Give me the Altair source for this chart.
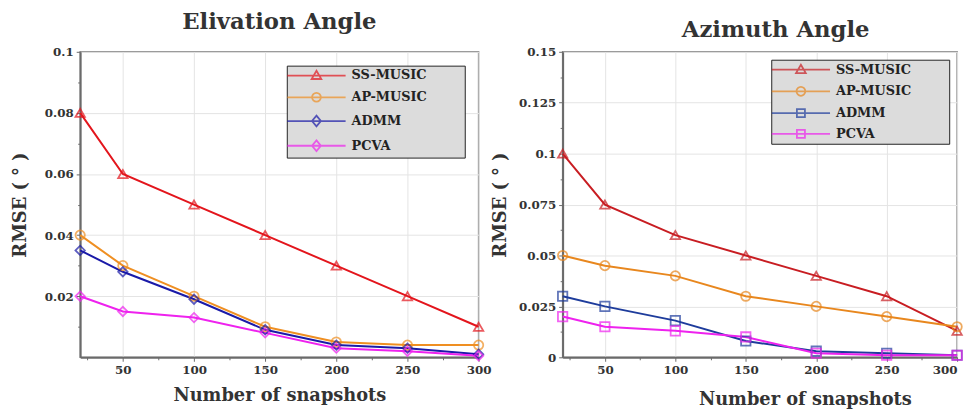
import altair as alt
import pandas as pd

snapshots = [20, 50, 100, 150, 200, 250, 300]
series = ["SS-MUSIC", "AP-MUSIC", "ADMM", "PCVA"]

# Elevation angle RMSE
elev_ss = [0.08, 0.06, 0.05, 0.04, 0.03, 0.02, 0.01]
elev_ap = [0.04, 0.03, 0.02, 0.01, 0.005, 0.004, 0.004]
elev_admm = [0.035, 0.028, 0.019, 0.009, 0.004, 0.003, 0.001]
elev_pcva = [0.02, 0.015, 0.013, 0.008, 0.003, 0.002, 0.0005]

# Azimuth angle RMSE
azim_ss = [0.1, 0.075, 0.06, 0.05, 0.04, 0.03, 0.013]
azim_ap = [0.05, 0.045, 0.04, 0.03, 0.025, 0.02, 0.015]
azim_admm = [0.03, 0.025, 0.018, 0.008, 0.003, 0.002, 0.001]
azim_pcva = [0.02, 0.015, 0.013, 0.01, 0.002, 0.001, 0.001]

# tick positions (major ones labelled, the others are minor ticks)
x_ticks = [25, 50, 75, 100, 125, 150, 175, 200, 225, 250, 275, 300]
elev_ticks = [0.01, 0.02, 0.03, 0.04, 0.05, 0.06, 0.07, 0.08, 0.09, 0.1]
azim_ticks = [0, 0.0125, 0.025, 0.0375, 0.05, 0.0625, 0.075, 0.0875, 0.1,
              0.1125, 0.125, 0.1375, 0.15]

elev_colors = ["#e3151c", "#ef8f22", "#1a1aa8", "#ee22ee"]
azim_colors = ["#c81d22", "#e8871e", "#1e3c9c", "#ee22ee"]

elev_shapes = ["triangle-up", "circle", "diamond", "diamond"]
azim_shapes = ["triangle-up", "circle", "square", "square"]

# legend glyphs: a line segment with the marker in its middle (unit = 7 px)
LINE = "M-4.21,0H4.21"
TRI = "M0,-0.7L0.7,0.5L-0.7,0.5Z"
CIRC = "M0.64,0A0.64,0.64,0,1,1,-0.64,0A0.64,0.64,0,1,1,0.64,0Z"
DIAM = "M0,-0.78L0.64,0L0,0.78L-0.64,0Z"
SQ = "M-0.58,-0.58H0.58V0.58H-0.58Z"
WIDEN = "M20.6,0"
elev_leg = [LINE + TRI + WIDEN, LINE + CIRC + WIDEN, LINE + DIAM + WIDEN, LINE + DIAM + WIDEN]
azim_leg = [LINE + TRI + WIDEN, LINE + CIRC + WIDEN, LINE + SQ + WIDEN, LINE + SQ + WIDEN]

SERIF = "DejaVu Serif"


def make_df(vals):
    rows = []
    for s, v in zip(series, vals):
        for xv, yv in zip(snapshots, v):
            rows.append({"snapshots": xv, "rmse": yv, "series": s})
    return pd.DataFrame(rows)


def panel(vals, colors, shapes, leg_paths, ymax, yticks, ymul, title, w, h,
          title_offset, title_dx, xtitle_x, legend_offset, y_title_pad,
          x_title_pad, flush):
    df = make_df(vals)
    base = alt.Chart(df)
    x_minor = "datum.value % 50 != 0"
    y_minor = f"abs(datum.value*{ymul} - round(datum.value*{ymul})) > 0.001"
    x = alt.X("snapshots:Q",
              scale=alt.Scale(domain=[20, 300], nice=False, zero=False),
              axis=alt.Axis(values=x_ticks, title="Number of snapshots",
                            titleX=xtitle_x, titlePadding=x_title_pad,
                            labelFlush=flush,
                            labelExpr=f"({x_minor}) ? '' : datum.label",
                            gridOpacity={"condition": {"test": x_minor, "value": 0}, "value": 1},
                            tickSize={"condition": {"test": x_minor, "value": 2.5}, "value": 4}))
    y = alt.Y("rmse:Q",
              scale=alt.Scale(domain=[0, ymax], nice=False, zero=True),
              axis=alt.Axis(values=yticks, title="RMSE ( ° )",
                            titlePadding=y_title_pad,
                            labelExpr=f"({y_minor}) ? '' : format(datum.value, '~g')",
                            gridOpacity={"condition": {"test": y_minor, "value": 0}, "value": 1},
                            tickSize={"condition": {"test": y_minor, "value": 2.5}, "value": 4}))
    stroke_scale = alt.Scale(domain=series, range=colors)
    lines = base.mark_line(strokeWidth=2).encode(
        x=x, y=y,
        stroke=alt.Stroke("series:N", scale=stroke_scale, legend=None),
    )
    points = base.mark_point(filled=False, size=90, strokeWidth=1.8).encode(
        x=x, y=y,
        stroke=alt.Stroke("series:N", scale=stroke_scale, legend=None),
        shape=alt.Shape("series:N", scale=alt.Scale(domain=series, range=shapes),
                        legend=None),
    )
    leg = alt.Legend(title=None, orient="top-right", offset=legend_offset,
                     fillColor="#dcdcdc", strokeColor="#222222", padding=2,
                     symbolSize=196, symbolOffset=20, labelOffset=27.5,
                     symbolStrokeWidth=1.8, rowPadding=5,
                     labelFont=SERIF, labelFontSize=13, labelFontWeight="bold",
                     labelColor="#222222")
    legend_layer = base.transform_filter("false").mark_point(
        filled=False, strokeWidth=1.8).encode(
        x=x, y=y,
        stroke=alt.Stroke("series:N", scale=stroke_scale, legend=leg),
        shape=alt.Shape("series:N", scale=alt.Scale(domain=series, range=leg_paths),
                        legend=leg),
    )
    return alt.layer(lines, points, legend_layer).resolve_scale(
        stroke="independent", shape="independent"
    ).properties(
        width=w, height=h,
        title=alt.TitleParams(title, font=SERIF, fontSize=23, fontWeight="bold",
                              color="#333333", offset=title_offset, dx=title_dx),
    )


left = panel([elev_ss, elev_ap, elev_admm, elev_pcva], elev_colors, elev_shapes,
             elev_leg, 0.1, elev_ticks, 50, "Elivation Angle", 403, 309,
             12, 0, 201.5, 14, 15, 12, False)
right = panel([azim_ss, azim_ap, azim_admm, azim_pcva], azim_colors, azim_shapes,
              azim_leg, 0.15, azim_ticks, 40, "Azimuth Angle", 399, 309,
              4, 16, 245, 8, 9, 16, True)

chart = alt.hconcat(left, right, spacing=-2).resolve_scale(
    stroke="independent", shape="independent"
).properties(
    padding={"left": 3, "top": 0, "right": 0, "bottom": 0}
).configure_view(
    stroke="#8a8a8a", strokeWidth=1.5
).configure_axis(
    labelFont=SERIF, labelFontSize=12, labelFontWeight="bold", labelColor="#333333",
    titleFont=SERIF, titleFontSize=18, titleFontWeight="bold", titleColor="#333333",
    domainColor="#6a6a6a", domainWidth=2, tickColor="#6a6a6a",
    gridColor="#e4e4e4", gridWidth=1, labelPadding=3,
)

chart.save("out.html", embed_options={"renderer": "svg", "actions": False})
